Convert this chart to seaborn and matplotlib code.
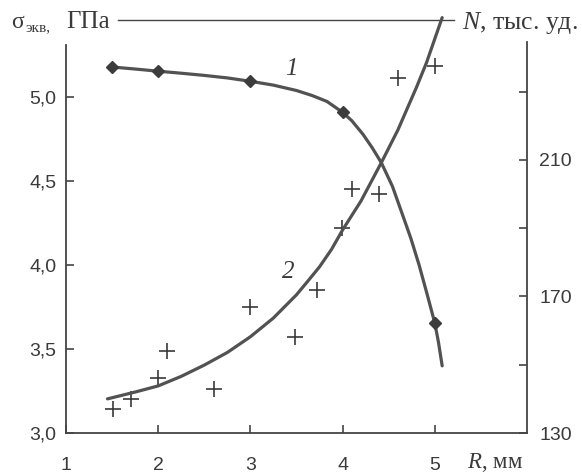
import matplotlib
matplotlib.use("Agg")
import matplotlib.pyplot as plt
import seaborn as sns

# curve 1: equivalent stress (left axis), GPa
r_curve1 = [1.5, 1.75, 2.0, 2.25, 2.5, 2.75, 3.0, 3.25, 3.5, 3.67, 3.83, 4.0, 4.1,
            4.22, 4.32, 4.42, 4.54, 4.65, 4.74, 4.83, 4.92, 5.0, 5.04, 5.08]
sigma_curve1 = [5.18, 5.168, 5.155, 5.143, 5.13, 5.115, 5.095, 5.072, 5.04, 5.01, 4.975,
                4.91, 4.86, 4.78, 4.70, 4.61, 4.47, 4.30, 4.16, 4.00, 3.82, 3.655, 3.54, 3.40]
r_diamonds = [1.5, 2.0, 3.0, 4.0, 5.0]
sigma_diamonds = [5.18, 5.155, 5.095, 4.91, 3.655]

# curve 2: number of impacts (right axis), thousands
r_curve2 = [1.45, 1.75, 2.0, 2.25, 2.5, 2.75, 3.0, 3.25, 3.5, 3.62, 3.75, 3.88, 4.0, 4.2,
            4.42, 4.6, 4.8, 4.91, 5.08]
n_curve2 = [140.0, 142.0, 143.8, 146.6, 149.9, 153.6, 158.2, 163.7, 170.5, 174.4, 178.7,
            183.8, 189.5, 198.0, 209.2, 218.8, 231.2, 238.5, 251.7]
r_crosses = [1.51, 1.71, 2.0, 2.10, 2.61, 3.0, 3.48, 3.72, 3.99, 4.10, 4.40, 4.60, 5.0]
n_crosses = [137, 140, 146, 154, 143, 167, 158, 172, 190, 201.5, 200, 234, 237.6]

x_ticks = [1, 2, 3, 4, 5]
left_ticks = [3.0, 3.5, 4.0, 4.5, 5.0]
right_ticks = [130, 150, 170, 190, 210, 230]
right_labels = ["130", "", "170", "", "210", ""]

sns.set_style("white")
plt.rcParams["font.family"] = ["Liberation Sans", "DejaVu Sans"]
plt.rcParams["mathtext.fontset"] = "custom"
plt.rcParams["mathtext.it"] = "Liberation Serif:italic"
plt.rcParams["mathtext.rm"] = "Liberation Serif"

W, H = 582, 474
fig = plt.figure(figsize=(W / 100, H / 100), dpi=100)
ax = fig.add_axes([66 / W, 1 - 433 / H, (527 - 66) / W, (433 - 20) / H])
ax2 = ax.twinx()

line_col = "#525252"
text_col = "#3a3a3a"

sns.lineplot(x=r_curve1, y=sigma_curve1, ax=ax, sort=False, color=line_col, lw=2.3)
ax.plot(r_diamonds, sigma_diamonds, ls="none", marker="D", ms=6.5, color="#3c3c3c")

sns.lineplot(x=r_curve2, y=n_curve2, ax=ax2, sort=False, color=line_col, lw=2.3)
sns.scatterplot(x=r_crosses, y=n_crosses, ax=ax2, marker="+", s=120,
                color="#3a3a3a", linewidth=1.2)
for ln in ax2.lines:
    ln.set_clip_on(False)

ax.set_xlim(1, 6)
ax.set_ylim(3.0, 5.46)
ax2.set_ylim(130, 251)

ax.set_xticks(x_ticks)
ax.set_xticklabels([str(v) for v in x_ticks])
ax.set_yticks(left_ticks)
ax.set_yticklabels([f"{v:.1f}".replace(".", ",") for v in left_ticks])
ax2.set_yticks(right_ticks)
ax2.set_yticklabels(right_labels)

for a in (ax, ax2):
    a.set_facecolor("none")
    for s in a.spines.values():
        s.set_visible(False)
        s.set_color("#444444")
        s.set_linewidth(1.3)

ax.spines["left"].set_visible(True)
ax.spines["left"].set_bounds(3.0, 5.31)
ax.spines["bottom"].set_visible(True)
ax.spines["top"].set_visible(True)
ax.spines["top"].set_bounds(1.565, 5.21)
ax.spines["top"].set_linewidth(1.0)
ax2.spines["right"].set_visible(True)
ax2.spines["right"].set_bounds(130, 244.7)

ax.tick_params(axis="x", direction="in", length=6, width=1.2, color="#444444",
               pad=17, labelsize=14, labelcolor=text_col, bottom=True)
ax.tick_params(axis="y", direction="in", length=6, width=1.2, color="#444444",
               pad=7, labelsize=14, labelcolor=text_col, left=True)
ax2.tick_params(axis="y", direction="in", length=6, width=1.2, color="#444444",
                pad=9, labelsize=14, labelcolor=text_col, right=True)
ax.set_xlabel("")
ax.set_ylabel("")
ax2.set_ylabel("")

serif = ["Liberation Serif", "DejaVu Serif"]
# axis titles
fig.text(11 / W, 1 - 23 / H, "σ", family=serif, fontsize=17, color=text_col, va="center", ha="left")
fig.text(25 / W, 1 - 28 / H, "экв,", family=serif, fontsize=11, color=text_col, va="center", ha="left")
fig.text(66 / W, 1 - 22 / H, "ГПа", family=serif, fontsize=18, color=text_col, va="center", ha="left")
fig.text(462 / W, 1 - 23 / H, "$N$, тыс. уд.", family=serif, fontsize=18.5, color=text_col,
         va="center", ha="left")
fig.text(467 / W, 1 - 462 / H, "$R$, мм", family=serif, fontsize=16.5, color=text_col,
         va="center", ha="left")

# curve labels
ax.text(3.44, 5.17, "1", family=serif, style="italic", fontsize=18, color=text_col, ha="center", va="center")
ax.text(3.41, 3.96, "2", family=serif, style="italic", fontsize=18, color=text_col, ha="center", va="center")

fig.savefig("out.png", dpi=100, facecolor="white")
